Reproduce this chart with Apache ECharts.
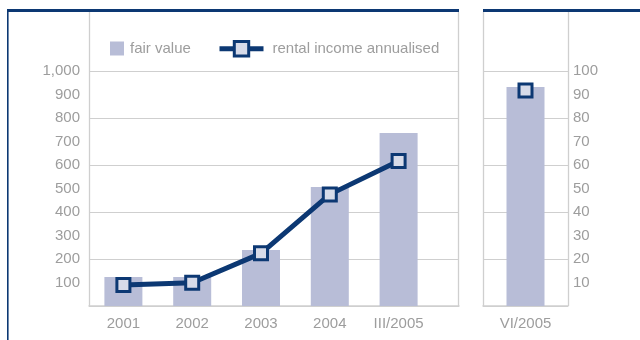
<!DOCTYPE html>
<html>
<head>
<meta charset="utf-8">
<script src="https://cdn.jsdelivr.net/npm/echarts@6/dist/echarts.min.js"></script>
<style>
html,body{margin:0;padding:0;background:#fff;}
#c{width:640px;height:340px;}
</style>
</head>
<body>
<div id="c"></div>
<script>
// ---- data ----
var categories = ['2001', '2002', '2003', '2004', 'III/2005'];
var fairValue = [123, 123, 238, 506, 736];
var rentalIncome = [8.9, 9.9, 22.4, 47.5, 61.7];
var extraCategory = ['VI/2005'];
var extraFairValue = [932];
var extraRental = [91.7];
var leftTicks = [100, 200, 300, 400, 500, 600, 700, 800, 900, 1000];
var rightTicks = [10, 20, 30, 40, 50, 60, 70, 80, 90, 100];

var NAVY = '#0c3873';
var BAR = '#b8bdd7';
var MARK = '#d7dbe9';
var GRID = '#cfcfcf';
var TXT = '#9d9d9d';
var FONT = '"Liberation Sans", Arial, sans-serif';

function fmt(v) {
  if (v === 0) return '';
  return String(v).replace(/\B(?=(\d{3})+(?!\d))/g, ',');
}

var chart = echarts.init(document.getElementById('c'), null, {renderer: 'canvas'});
var TOP = 71, H = 235;

var option = {
  animation: false,
  backgroundColor: '#fff',
  textStyle: {fontFamily: FONT},
  grid: [
    {left: 89, top: TOP, width: 370, height: H},
    {left: 89, top: TOP, width: 344, height: H},
    {left: 483, top: TOP, width: 85, height: H}
  ],
  legend: [
    {
      data: [{name: 'fair value', icon: 'rect'}], left: 105, top: 36,
      itemWidth: 14, itemHeight: 14,
      textStyle: {color: TXT, fontSize: 15, fontFamily: FONT, padding: [0, 0, 0, 1]},
      selectedMode: false
    },
    {
      data: ['rental income annualised'], left: 212, top: 35,
      itemWidth: 44, itemHeight: 18,
      lineStyle: {width: 5},
      itemStyle: {borderWidth: 3},
      textStyle: {color: TXT, fontSize: 15, fontFamily: FONT, padding: [0, 0, 0, 4]},
      selectedMode: false
    }
  ],
  xAxis: [
    {gridIndex: 0, type: 'value', min: 0, max: 1, show: true,
      axisLine: {show: true, lineStyle: {color: GRID, width: 1.5}},
      axisTick: {show: false}, axisLabel: {show: false}, splitLine: {show: false}},
    {gridIndex: 1, type: 'category', data: categories,
      axisLine: {show: false}, axisTick: {show: false},
      axisLabel: {color: TXT, fontSize: 15, fontFamily: FONT, margin: 10}},
    {gridIndex: 2, type: 'category', data: extraCategory,
      axisLine: {show: true, lineStyle: {color: GRID, width: 1.5}}, axisTick: {show: false},
      axisLabel: {color: TXT, fontSize: 15, fontFamily: FONT, margin: 10}}
  ],
  yAxis: [
    {gridIndex: 0, type: 'value', min: 0, max: 1000, interval: 100,
      axisLine: {show: false}, axisTick: {show: false}, splitLine: {show: false},
      axisLabel: {color: TXT, fontSize: 15, fontFamily: FONT, margin: 9, formatter: fmt}},
    {gridIndex: 0, type: 'value', min: 0, max: 1000, interval: 200,
      axisLine: {show: false}, axisTick: {show: false}, axisLabel: {show: false},
      splitLine: {show: true, lineStyle: {color: GRID, width: 1.2}}},
    {gridIndex: 1, type: 'value', min: 0, max: 1000, show: false},
    {gridIndex: 1, type: 'value', min: 0, max: 100, show: false},
    {gridIndex: 2, type: 'value', position: 'right', min: 0, max: 100, interval: 10,
      axisLine: {show: false}, axisTick: {show: false}, splitLine: {show: false},
      axisLabel: {color: TXT, fontSize: 15, fontFamily: FONT, margin: 5,
        formatter: function (v) { return v === 0 ? '' : String(v); }}},
    {gridIndex: 2, type: 'value', min: 0, max: 100, interval: 20,
      axisLine: {show: false}, axisTick: {show: false}, axisLabel: {show: false},
      splitLine: {show: true, lineStyle: {color: GRID, width: 1.2}}},
    {gridIndex: 2, type: 'value', min: 0, max: 1000, show: false}
  ],
  series: [
    {name: 'fair value', type: 'bar', xAxisIndex: 1, yAxisIndex: 2, data: fairValue,
      barWidth: 38, itemStyle: {color: BAR}},
    {name: 'rental income annualised', type: 'line', xAxisIndex: 1, yAxisIndex: 3, data: rentalIncome,
      symbol: 'rect', symbolSize: 13,
      lineStyle: {color: NAVY, width: 5},
      itemStyle: {color: MARK, borderColor: NAVY, borderWidth: 3}, z: 5},
    {name: 'fair value', type: 'bar', xAxisIndex: 2, yAxisIndex: 6, data: extraFairValue,
      barWidth: 38, itemStyle: {color: BAR}},
    {name: 'rental income annualised', type: 'line', xAxisIndex: 2, yAxisIndex: 4, data: extraRental,
      symbol: 'rect', symbolSize: 13,
      lineStyle: {color: NAVY, width: 5},
      itemStyle: {color: MARK, borderColor: NAVY, borderWidth: 3}, z: 5}
  ],
  graphic: [
    {type: 'rect', shape: {x: 7, y: 9, width: 452, height: 3}, style: {fill: NAVY}, silent: true},
    {type: 'rect', shape: {x: 483, y: 9, width: 157, height: 3}, style: {fill: NAVY}, silent: true},
    {type: 'rect', shape: {x: 7, y: 9, width: 1.6, height: 331}, style: {fill: NAVY}, silent: true},
    {type: 'line', shape: {x1: 89.5, y1: 12, x2: 89.5, y2: 306}, style: {stroke: GRID, lineWidth: 1.3}, silent: true},
    {type: 'line', shape: {x1: 458.5, y1: 12, x2: 458.5, y2: 306}, style: {stroke: GRID, lineWidth: 1.3}, silent: true},
    {type: 'line', shape: {x1: 483.5, y1: 12, x2: 483.5, y2: 306}, style: {stroke: GRID, lineWidth: 1.3}, silent: true},
    {type: 'line', shape: {x1: 568.5, y1: 12, x2: 568.5, y2: 306}, style: {stroke: GRID, lineWidth: 1.3}, silent: true}
  ]
};
chart.setOption(option);
</script>
</body>
</html>
